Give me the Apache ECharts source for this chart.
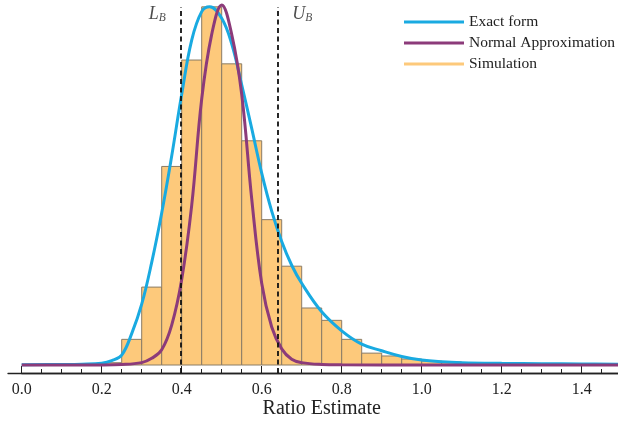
<!DOCTYPE html>
<html>
<head>
<meta charset="utf-8">
<script src="https://cdn.jsdelivr.net/npm/echarts@6/dist/echarts.min.js"></script>
<style>
html,body{margin:0;padding:0;background:#fff;}
#chart{width:618px;height:422px;}
</style>
</head>
<body>
<div id="chart"></div>
<script>
// ---- data ----
const binStart = [0.20,0.25,0.30,0.35,0.40,0.45,0.50,0.55,0.60,0.65,0.70,0.75,0.80,0.85,0.90,0.95,1.00,1.05,1.10,1.15,1.20];
const binWidth = 0.05;
const simDensity = [0.024,0.27,0.82,2.09,3.21,3.77,3.17,2.36,1.53,1.04,0.60,0.47,0.27,0.125,0.095,0.063,0.042,0.032,0.02,0.015,0.01];

const exactX = [0.00,0.10,0.15,0.20,0.225,0.25,0.275,0.30,0.325,0.35,0.375,0.40,0.425,0.45,0.47,0.50,0.525,0.55,0.575,0.60,0.625,0.65,0.675,0.70,0.75,0.80,0.85,0.90,0.95,1.00,1.05,1.10,1.20,1.30,1.40,1.50];
const exactY = [0.003,0.005,0.008,0.018,0.045,0.105,0.33,0.64,1.08,1.60,2.20,2.85,3.42,3.72,3.77,3.65,3.38,2.95,2.49,2.02,1.62,1.30,1.05,0.86,0.56,0.36,0.22,0.15,0.09,0.052,0.034,0.025,0.018,0.014,0.011,0.009];

const normalX = [0.00,0.20,0.25,0.30,0.325,0.35,0.375,0.40,0.425,0.45,0.475,0.50,0.525,0.55,0.575,0.60,0.625,0.65,0.675,0.70,0.75,0.80,1.00,1.50];
const normalY = [0.0,0.001,0.005,0.025,0.07,0.16,0.42,0.90,1.68,2.80,3.48,3.79,3.48,2.85,1.75,0.86,0.40,0.17,0.06,0.025,0.006,0.002,0.0,0.0];

const boundL = 0.3975;
const boundU = 0.639;
const boundLabels = ['L', 'U'];
const seriesNames = ['Exact form', 'Normal Approximation', 'Simulation'];

// ---- chart ----
const SERIF = "'Liberation Serif', 'DejaVu Serif', serif";
const BLUE = '#19AAE1', PURPLE = '#8C3B7A', ORANGE = '#FDC97B';
const Y0 = -0.0842, Y1 = 3.842;

const chart = echarts.init(document.getElementById('chart'), null, {renderer: 'canvas'});
chart.setOption({
  animation: false,
  backgroundColor: '#fff',
  grid: [
    {left: 21.7, right: -3.7, top: 0, bottom: 49, containLabel: false, outerBoundsMode: 'none'},
    {left: 8, right: -4, top: 0, bottom: 49, containLabel: false, outerBoundsMode: 'none'}
  ],
  xAxis: [{
    type: 'value', gridIndex: 0, min: 0, max: 1.5, interval: 0.2,
    axisLine: {show: true, onZero: false, lineStyle: {color: '#222', width: 1.3}},
    axisTick: {show: true, inside: true, length: 7, lineStyle: {color: '#222', width: 1}},
    minorTick: {show: true, splitNumber: 4, length: 4, lineStyle: {color: '#222', width: 1}},
    splitLine: {show: false}, minorSplitLine: {show: false},
    axisLabel: {show: true, margin: 9, fontFamily: SERIF, fontSize: 16, color: '#222',
      showMaxLabel: false, formatter: v => v.toFixed(1)},
    name: 'Ratio Estimate', nameLocation: 'middle', nameGap: 26, nameMoveOverlap: false,
    nameTextStyle: {fontFamily: SERIF, fontSize: 20, color: '#222'}
  }, {
    type: 'value', gridIndex: 1, min: 0, max: 1,
    axisLine: {show: true, onZero: false, lineStyle: {color: '#222', width: 1.3}},
    axisTick: {show: false}, axisLabel: {show: false}, splitLine: {show: false}
  }],
  yAxis: [
    {type: 'value', gridIndex: 0, min: Y0, max: Y1, show: false, splitLine: {show: false}},
    {type: 'value', gridIndex: 1, min: 0, max: 1, show: false, splitLine: {show: false}}
  ],
  legend: {
    orient: 'vertical', left: 399, top: 9,
    icon: 'rect', itemWidth: 60, itemHeight: 3, itemGap: 5,
    textStyle: {fontFamily: SERIF, fontSize: 15.5, color: '#222', lineHeight: 16},
    data: [
      {name: seriesNames[0], itemStyle: {color: BLUE}},
      {name: seriesNames[1], itemStyle: {color: PURPLE}},
      {name: seriesNames[2], itemStyle: {color: ORANGE}}
    ]
  },
  series: [
    {
      name: seriesNames[2], type: 'custom', xAxisIndex: 0, yAxisIndex: 0,
      itemStyle: {color: ORANGE},
      encode: {x: 0, y: 1},
      data: binStart.map((s, i) => [s, simDensity[i]]),
      renderItem: function (params, api) {
        const x0 = api.value(0), h = api.value(1);
        const pTop = api.coord([x0, h]);
        const pBot = api.coord([x0 + binWidth, 0]);
        return {
          type: 'rect',
          shape: {x: pTop[0], y: pTop[1], width: pBot[0] - pTop[0], height: pBot[1] - pTop[1]},
          style: {fill: ORANGE, stroke: '#8a7c66', lineWidth: 1}
        };
      },
      z: 1
    },
    {
      name: seriesNames[0], type: 'line', xAxisIndex: 0, yAxisIndex: 0,
      data: exactX.map((x, i) => [x, exactY[i]]),
      smooth: 0.4, showSymbol: false, symbol: 'none',
      lineStyle: {color: BLUE, width: 3}, itemStyle: {color: BLUE}, z: 3
    },
    {
      name: seriesNames[1], type: 'line', xAxisIndex: 0, yAxisIndex: 0,
      data: normalX.map((x, i) => [x, normalY[i]]),
      smooth: 0.4, showSymbol: false, symbol: 'none',
      lineStyle: {color: PURPLE, width: 3}, itemStyle: {color: PURPLE}, z: 4
    },
    {
      name: 'bounds', type: 'scatter', xAxisIndex: 0, yAxisIndex: 0,
      symbolSize: 0, silent: true, z: 10,
      data: [
        {value: [boundL, 3.695], label: {position: 'left', formatter: '{i|' + boundLabels[0] + '}{s|B}'}},
        {value: [boundU, 3.695], label: {position: 'right', formatter: '{i|' + boundLabels[1] + '}{s|B}'}}
      ],
      label: {
        show: true, distance: 15,
        rich: {
          i: {fontFamily: SERIF, fontStyle: 'italic', fontSize: 18, color: '#222', lineHeight: 20, verticalAlign: 'middle'},
          s: {fontFamily: SERIF, fontStyle: 'italic', fontSize: 11.5, color: '#222', lineHeight: 12, verticalAlign: 'bottom'}
        }
      },
      markLine: {
        silent: true, symbol: ['none', 'none'], animation: false,
        label: {show: false},
        lineStyle: {color: '#111', type: [5, 3.5], width: 1.8},
        data: [
          [{coord: [boundL, Y0]}, {coord: [boundL, 3.768]}],
          [{coord: [boundU, Y0]}, {coord: [boundU, 3.768]}]
        ]
      }
    }
  ]
});
</script>
</body>
</html>
